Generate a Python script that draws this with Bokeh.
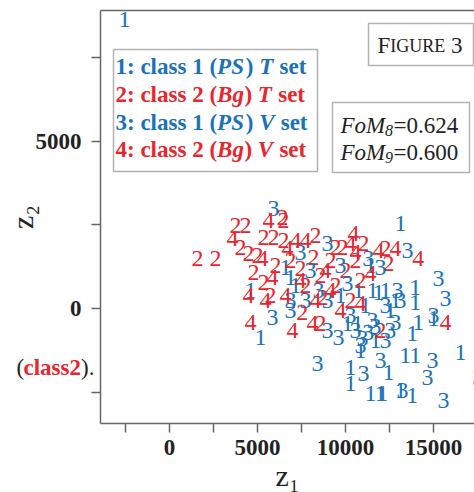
from bokeh.plotting import figure
from bokeh.models import FixedTicker, Label, BoxAnnotation, Range1d, ColumnDataSource, LinearAxis
from bokeh.embed import file_html
from bokeh.resources import INLINE
from bokeh.core.properties import value

# ---------------- data (z1, z2) ----------------
c1_x = [-2560, 13120, 5170, 4600, 6590, 6870, 10735, 11530, 11420, 11870, 12270, 13970, 13970,
        12550, 14140, 14995, 13800, 13400, 13970, 16530, 12440, 12100, 13120, 13800, 10280, 10280,
        11420, 11985, 10110, 10680, 7160, 9710, 11130, 12840, 11700, 10850]
c1_y = [8650, 2545, -870, 540, 1230, 930, 540, 540, 1290, 480, 540, 630, 180,
        -60, -420, -300, -750, -1410, -1410, -1320, -1920, -2545, -2455, -2605, -1770, -2250,
        -2545, -2545, -450, -450, 690, 390, 90, 240, -960, -1260]

c2_x = [1590, 2610, 3750, 4320, 4030, 4490, 5000, 4770, 5340, 6420, 5340, 5910, 6475, 8290, 9430,
        9830, 11020, 12270, 12440, 8180, 8690, 10280, 7550, 8580, 11985, 6475, 6870, 7440, 8580,
        9145, 10000, 10565, 6020, 7725, 9430, 10850, 5740]
c2_y = [1500, 1500, 2485, 2485, 1830, 1650, 1590, 1080, 780, 2725, 2125, 2125, 2635, 2185, 1830,
        1830, 1945, 1795, 1350, 1530, 330, 240, -120, -450, -660, 2035, 1440, 1200, 990,
        1440, 1140, 1440, 1290, 690, 690, 840, 390]

c3_x = [5910, 8975, 7440, 11300, 13520, 11985, 15280, 12950, 15680, 10110, 6870, 7725, 8975, 5850,
        6870, 8975, 9600, 8405, 11020, 11985, 13235, 14940, 14655, 15565, 14995, 17550, 10565,
        10960, 11300, 11700, 10850, 12550, 12840, 12270, 8465, 8010, 9710, 13120, 12270, 11530, 10280]
c3_y = [2995, 1945, 1680, 1500, 1740, 1230, 900, 540, 300, 750, 240, 240, 240, -270,
        -60, -660, -870, -1650, -1945, -1560, -2455, -1560, -2065, -2755, -210, -2065, -660,
        -900, -720, -540, -1110, -660, -420, -960, 540, 1140, 1290, 240, 90, -360, -210]

c4_x = [5620, 3580, 5280, 5850, 4490, 4600, 7160, 7725, 10280, 10450, 10565, 6700, 11420, 11870,
        12840, 14140, 6985, 8120, 15680, 7440, 8860, 9710, 10850, 8290, 9145, 6590, 5450]
c4_y = [2635, 2095, 1500, 930, 390, -420, 2035, 2035, 1945, 2245, 1680, 1795, 1050, 1740,
        1795, 1500, -660, -450, -420, 840, 1140, -60, 150, 240, 540, 390, 240]

x_ticks = [-2500, 0, 2500, 5000, 7500, 10000, 12500, 15000]
y_ticks = [-2500, 0, 2500, 5000, 7500]
x_labels = {-2500: "", 2500: "", 7500: "", 12500: ""}
y_labels = {-2500: "", 2500: "", 7500: ""}

# plotted area limits (where the axes sit) and the full view
X_MIN, X_MAX = -3920, 17330
Y_MIN, Y_MAX = -3440, 8920
VIEW_X = (-9600, 17330)
VIEW_Y = (-5506, 9219)

BLUE = "#1a72b8"
RED = "#e8262d"
SERIF = "Liberation Serif"
AXC = "#666666"

p = figure(width=474, height=492, x_range=Range1d(*VIEW_X), y_range=Range1d(*VIEW_Y),
           output_backend="svg", toolbar_location=None, x_axis_location=None, y_axis_location=None,
           min_border=0, min_border_left=0, min_border_right=0, min_border_top=0, min_border_bottom=0)
p.background_fill_color = "white"
p.border_fill_color = "white"
p.outline_line_color = None
p.xgrid.visible = False
p.ygrid.visible = False

xaxis = LinearAxis(fixed_location=Y_MIN, bounds=(X_MIN, X_MAX))
yaxis = LinearAxis(fixed_location=X_MIN, bounds=(Y_MIN, Y_MAX))
topline = LinearAxis(fixed_location=Y_MAX, bounds=(X_MIN, X_MAX), ticker=FixedTicker(ticks=[]),
                     major_label_text_font_size="0px")
for ax, ticks, labels in ((xaxis, x_ticks, x_labels), (yaxis, y_ticks, y_labels)):
    ax.ticker = FixedTicker(ticks=ticks)
    ax.major_label_overrides = labels
    ax.major_tick_line_color = AXC
    ax.major_tick_line_width = 1.5
    ax.major_tick_out = 9
    ax.major_tick_in = 0
    ax.major_label_text_font = SERIF
    ax.major_label_text_font_style = "bold"
    ax.major_label_text_font_size = "23px"
    ax.major_label_text_color = "#222222"
    ax.axis_label_text_font = SERIF
    ax.axis_label_text_font_style = "normal"
    ax.axis_label_text_font_size = "30px"
    ax.axis_label_text_color = "#222222"
for ax in (xaxis, yaxis, topline):
    ax.axis_line_color = AXC
    ax.axis_line_width = 1.5
    ax.minor_tick_line_color = None
topline.major_tick_line_color = None
xaxis.major_label_standoff = 8
yaxis.major_label_standoff = 10
xaxis.axis_label = "z\u2081"
yaxis.axis_label = "z\u2082"
xaxis.axis_label_standoff = 0
yaxis.axis_label_standoff = -6
p.add_layout(xaxis, "below")
p.add_layout(yaxis, "left")
p.add_layout(topline, "above")

series = [(c1_x, c1_y, "1", BLUE), (c2_x, c2_y, "2", RED), (c3_x, c3_y, "3", BLUE), (c4_x, c4_y, "4", RED)]
for xs, ys, t, col in series:
    src = ColumnDataSource(dict(x=xs, y=ys, t=[t] * len(xs)))
    p.text(x="x", y="y", text="t", source=src, text_color=col, text_font=value(SERIF),
           text_font_size="24px", text_align="center", text_baseline="middle")

# ---------- annotations: screen offsets measured from the axes corner ----------
OX, OY = 100, 69

def lab(x, y, text, color="black", size="23px", style="normal", baseline="middle", angle=0):
    p.add_layout(Label(x=x + OX, y=y + OY, x_units="screen", y_units="screen", text=text,
                       text_color=color, text_font=SERIF, text_font_size=size,
                       text_font_style=style, text_align="left", text_baseline=baseline, angle=angle))

def box(l, r, t, b):
    p.add_layout(BoxAnnotation(left=l + OX, right=r + OX, top=t + OY, bottom=b + OY,
                               left_units="screen", right_units="screen", top_units="screen",
                               bottom_units="screen", fill_color="white", fill_alpha=1,
                               line_color="black", line_width=1.5))

# legend box
box(13, 217, 374, 252)
SP = 5.75
legend_lines = [
    (357, BLUE, [("1: class 1 (", "bold"), ("PS", "bold italic"), (")", "bold"), ("T", "bold italic"), ("set", "bold")]),
    (329, RED, [("2: class 2 (", "bold"), ("Bg", "bold italic"), (")", "bold"), ("T", "bold italic"), ("set", "bold")]),
    (301, BLUE, [("3: class 1 (", "bold"), ("PS", "bold italic"), (")", "bold"), ("V", "bold italic"), ("set", "bold")]),
    (274, RED, [("4: class 2 (", "bold"), ("Bg", "bold italic"), (")", "bold"), ("V", "bold italic"), ("set", "bold")]),
]
W = {"1: class 1 (": 101.6, "2: class 2 (": 101.6, "3: class 1 (": 101.6, "4: class 2 (": 101.6,
     "PS": 28.6, "Bg": 27.3, ")": 7.7 + SP, "T": 14.6 + SP, "V": 15.8 + SP, "set": 27}
for yy, col, segs in legend_lines:
    xx = 15
    for s, st in segs:
        lab(xx, yy, s, col, "23px", st)
        xx += W[s]

# FoM box
box(232, 369, 321, 251)
for yb, sub, val in ((298, "8", "=0.624"), (271, "9", "=0.600")):
    lab(240, yb, "FoM", "#222222", "23px", "italic", "alphabetic")
    lab(284.5, yb - 5, sub, "#222222", "16px", "italic", "alphabetic")
    lab(293, yb, val, "#222222", "23px", "normal", "alphabetic")

# FIGURE 3 box
box(268, 373, 400, 358)
lab(277, 378, "F", "#222222", "23px", "normal", "alphabetic")
lab(289.8, 378, "IGURE", "#222222", "18px", "normal", "alphabetic")
lab(344.8 + SP, 378, "3", "#222222", "23px", "normal", "alphabetic")

# stray caption text left of the axis
lab(-84, 56, "(", "#222222", "23px", "normal")
lab(-77, 56, "class2", RED, "23px", "bold")
lab(-19.5, 56, ").", "#222222", "23px", "normal")

open("out.html", "w").write(file_html(p, INLINE))
